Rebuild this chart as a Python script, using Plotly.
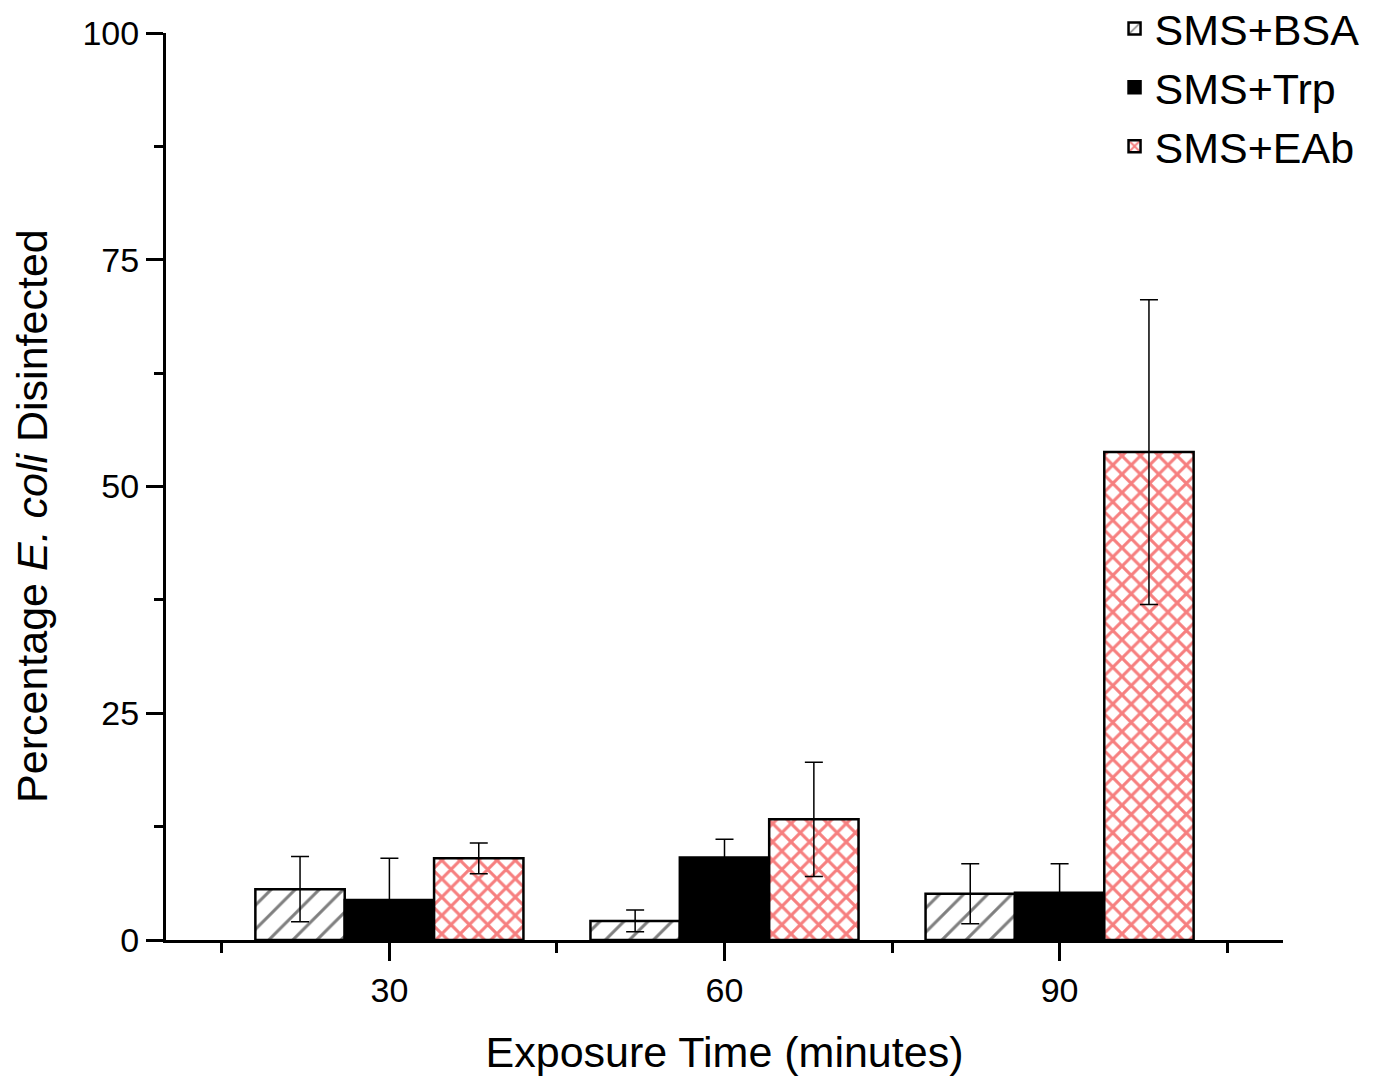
import plotly.graph_objects as go

times = [30, 60, 90]
series_names = ["SMS+BSA", "SMS+Trp", "SMS+EAb"]
bsa_vals = [5.6, 2.1, 5.1]
bsa_err = [3.6, 1.2, 3.3]
trp_vals = [4.4, 9.1, 5.2]
trp_err = [4.6, 2.0, 3.2]
eab_vals = [9.0, 13.3, 53.8]
eab_err = [1.7, 6.3, 16.8]
y_ticks = [0, 25, 50, 75, 100]
x_title = "Exposure Time (minutes)"
y_title = "Percentage <i>E. coli</i> Disinfected"

FONT = "Arial, Liberation Sans, sans-serif"

err_style = dict(type="data", color="black", thickness=1.5, width=9, visible=True)
line_style = dict(color="black", width=2.5)

fig = go.Figure()
fig.add_trace(go.Bar(
    x=times, y=bsa_vals, name=series_names[0],
    error_y=dict(array=bsa_err, **err_style),
    marker=dict(color="white", line=line_style,
                pattern=dict(shape="/", fgcolor="black", bgcolor="white", size=17, solidity=0.18)),
))
fig.add_trace(go.Bar(
    x=times, y=trp_vals, name=series_names[1],
    error_y=dict(array=trp_err, **err_style),
    marker=dict(color="black", line=line_style),
))
fig.add_trace(go.Bar(
    x=times, y=eab_vals, name=series_names[2],
    error_y=dict(array=eab_err, **err_style),
    marker=dict(color="white", line=line_style,
                pattern=dict(shape="x", fgcolor="#ee0000", bgcolor="white", size=13, solidity=0.42)),
))

# page body has an 8px margin: shrink the figure so it fits the window exactly
fig.update_layout(
    width=1369, height=1068,
    margin=dict(l=158, r=94, t=25, b=136, autoexpand=False),
    paper_bgcolor="white", plot_bgcolor="white",
    barmode="group", bargap=0.2, bargroupgap=0,
    font=dict(family=FONT, color="black", size=33),
    legend=dict(x=1.073, xanchor="right", y=1.043, yanchor="top",
                font=dict(size=43), bgcolor="rgba(0,0,0,0)", tracegroupgap=0),
    xaxis=dict(
        range=[10, 110], tickmode="array", tickvals=times, ticktext=[str(t) for t in times],
        showline=True, linecolor="black", linewidth=3, automargin=False,
        ticks="outside", ticklen=18, tickwidth=3, tickcolor="black",
        minor=dict(tickvals=[15, 45, 75, 105], ticks="outside", ticklen=10, tickwidth=3, tickcolor="black"),
        showgrid=False, zeroline=False, tickfont=dict(size=34),
        title=dict(text=x_title, font=dict(size=43), standoff=31),
    ),
    yaxis=dict(
        range=[0, 100], tickmode="array", tickvals=y_ticks, ticktext=[str(t) for t in y_ticks],
        showline=True, linecolor="black", linewidth=3, automargin=False,
        ticks="outside", ticklen=17, tickwidth=3, tickcolor="black",
        minor=dict(tickvals=[12.5, 37.5, 62.5, 87.5], ticks="outside", ticklen=9, tickwidth=3, tickcolor="black"),
        showgrid=False, zeroline=False, tickfont=dict(size=34),
    ),
    annotations=[dict(text=y_title, xref="paper", yref="paper", x=-0.12, y=0.4675,
                      xanchor="center", yanchor="middle", textangle=-90, showarrow=False,
                      font=dict(size=43, family=FONT, color="black"))],
)

fig.write_html("out.html")
